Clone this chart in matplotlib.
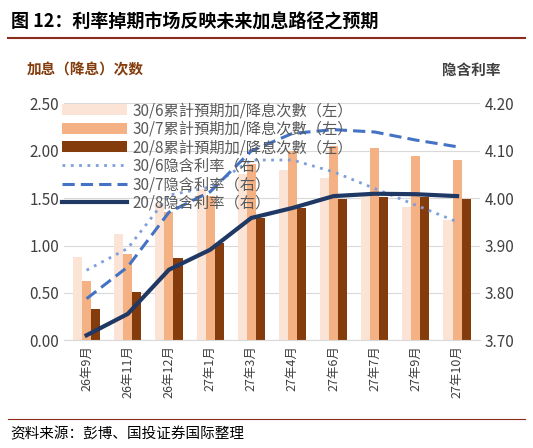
import numpy as np
import matplotlib.pyplot as plt
import matplotlib.lines as mlines

plt.rcParams['font.family'] = ['Noto Sans CJK SC', 'DejaVu Sans']

months = ['26年9月', '26年11月', '26年12月', '27年1月', '27年3月',
          '27年4月', '27年6月', '27年7月', '27年9月', '27年10月']

hikes_0630 = [0.88, 1.12, 1.45, 1.60, 1.75, 1.79, 1.71, 1.55, 1.41, 1.27]
hikes_0730 = [0.63, 0.91, 1.35, 1.52, 1.86, 2.00, 2.05, 2.03, 1.94, 1.90]
hikes_0820 = [0.33, 0.51, 0.87, 1.03, 1.29, 1.40, 1.49, 1.51, 1.51, 1.49]

rate_0630 = [3.848, 3.894, 4.006, 4.023, 4.080, 4.080, 4.055, 4.020, 3.985, 3.950]
rate_0730 = [3.788, 3.855, 3.970, 4.013, 4.099, 4.136, 4.144, 4.139, 4.122, 4.108]
rate_0820 = [3.711, 3.756, 3.849, 3.891, 3.958, 3.979, 4.004, 4.009, 4.008, 4.004]

fig = plt.figure(figsize=(5.33, 4.48), dpi=100)
ax = fig.add_axes([0.12, 0.24, 0.78, 0.53])
ax2 = ax.twinx()

x = np.arange(len(months))
w = 0.22
ax.bar(x - w, hikes_0630, w, color='#fbe3d5', label='30/6累計預期加/降息次數（左）')
ax.bar(x, hikes_0730, w, color='#f4b183', label='30/7累計預期加/降息次數（左）')
ax.bar(x + w, hikes_0820, w, color='#843c0c', label='20/8累計預期加/降息次數（左）')

ax2.plot(x, rate_0630, color='#7f9fdc', lw=2, ls=(0, (1, 2)), label='30/6隐含利率（右）')
ax2.plot(x, rate_0730, color='#4472c4', lw=2.2, ls=(0, (4, 2)), label='30/7隐含利率（右）')
ax2.plot(x, rate_0820, color='#203864', lw=3, label='20/8隐含利率（右）')

ax.set_ylim(0, 2.5)
ax.set_yticks(np.arange(0, 2.51, 0.5))
ax.set_yticklabels([f'{v:.2f}' for v in np.arange(0, 2.51, 0.5)])
ax2.set_ylim(3.7, 4.2)
ax2.set_yticks(np.arange(3.7, 4.201, 0.1))
ax2.set_yticklabels([f'{v:.2f}' for v in np.arange(3.7, 4.201, 0.1)])
ax.set_xlim(-0.55, len(months) - 0.45)
ax.set_xticks(x)
ax.set_xticklabels(months, rotation=90, fontsize=9, color='#404040')
ax.grid(axis='y', color='#d9d9d9', lw=0.8)
ax.set_axisbelow(True)
for a in (ax, ax2):
    for s in a.spines.values():
        s.set_visible(False)
    a.tick_params(length=0, labelsize=11, colors='#404040')
ax.spines['bottom'].set_visible(True)
ax.spines['bottom'].set_color('#d9d9d9')
ax.tick_params(axis='x', labelsize=9)

h1, l1 = ax.get_legend_handles_labels()
h2, l2 = ax2.get_legend_handles_labels()
leg = ax2.legend(h1 + h2, l1 + l2, loc='upper left', bbox_to_anchor=(-0.02, 1.03),
                 frameon=False, fontsize=11, handlelength=4.3, handletextpad=0.3,
                 labelspacing=0.1, borderaxespad=0)
for t in leg.get_texts():
    t.set_color('#595959')

fig.text(0.02, 0.95, '图 12：利率掉期市场反映未来加息路径之预期', fontsize=13,
         fontweight='bold', color='#000000', va='center')
fig.add_artist(mlines.Line2D([0.015, 0.985], [0.915, 0.915], color='#8b2c1c', lw=1.5))
fig.text(0.05, 0.845, '加息（降息）次数', fontsize=10.5, color='#843c0c',
         fontweight='bold', va='center')
fig.text(0.83, 0.845, '隐含利率', fontsize=10.5, color='#404040',
         fontweight='bold', va='center')
fig.add_artist(mlines.Line2D([0.015, 0.985], [0.065, 0.065], color='#8b2c1c', lw=0.8))
fig.text(0.02, 0.03, '资料来源：彭博、国投证券国际整理', fontsize=10.5,
         style='italic', color='#000000', va='center')

fig.savefig('out.png', dpi=100)
